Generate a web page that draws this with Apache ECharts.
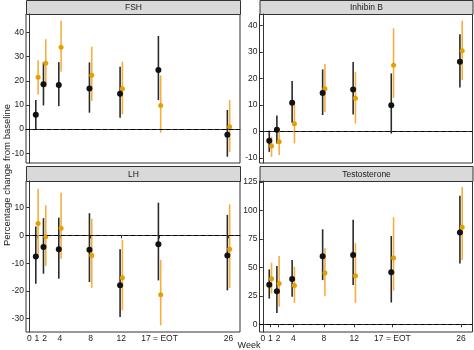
<!DOCTYPE html>
<html>
<head>
<meta charset="utf-8">
<script src="https://cdn.jsdelivr.net/npm/echarts@6/dist/echarts.min.js"></script>
<style>
    html, body {margin: 0; padding: 0; background: #fff;}
    #chart {width: 474px; height: 350px;}
</style>
</head>
<body>
<div id="chart"></div>
<script>
// 周数与刻度
var weeks = [1, 2, 4, 8, 12, 17, 26];
var xTickValues = [0, 1, 2, 4, 8, 12, 17, 26];
var xTickLabels = ['0', '1', '2', '4', '8', '12', '17 = EOT', '26'];

// FSH
var fshBlack = [5.9, 18.6, 18.2, 16.8, 14.6, 24.4, -2.3];
var fshBlackLo = [0, 9.8, 9.5, 6.8, 4.7, 12, -11.4];
var fshBlackHi = [12, 27.6, 27.7, 27.6, 25.8, 38.5, 7.9];
var fshOrange = [21.5, 27.2, 33.9, 22.3, 16.7, 9.8, 1.0];
var fshOrangeLo = [14.3, 17.5, 23.7, 11.7, 6.1, -1.5, -9.4];
var fshOrangeHi = [28.5, 37.2, 44.8, 34.1, 27.9, 22.2, 12];

// Inhibin B
var inhBlack = [-3.5, 0.6, 10.8, 14.5, 15.8, 9.9, 26.3];
var inhBlackLo = [-7.7, -4.5, 3.3, 6.2, 6.4, -0.8, 16.6];
var inhBlackHi = [0.3, 6, 19, 23.4, 26.2, 21.9, 36.7];
var inhOrange = [-5.5, -3.9, 2.9, 16.1, 12.5, 25, 30.4];
var inhOrangeLo = [-9.6, -8.9, -4.5, 7.3, 3, 12.7, 19.4];
var inhOrangeHi = [-2, 1.1, 10.3, 25.4, 22.5, 38.9, 41.8];

// LH
var lhBlack = [-7.6, -4.2, -5, -5.2, -18, -3.2, -7.2];
var lhBlackLo = [-17.4, -13.8, -15.6, -16.8, -29.4, -16.2, -19.8];
var lhBlackHi = [3.2, 6.2, 6.4, 8, -5, 11.8, 7.4];
var lhOrange = [4.3, -0.5, 2.6, -7.2, -15.3, -21.4, -5];
var lhOrangeLo = [-8, -11, -8.4, -18.9, -27, -32.4, -18.9];
var lhOrangeHi = [16.8, 10.8, 15.4, 6, -1.6, -8.8, 11.2];

// Testosterone
var tBlack = [34.7, 29.1, 39.7, 59.7, 60.9, 45.6, 80.6];
var tBlackLo = [22.6, 10, 24.1, 38.8, 34.4, 19.1, 53.5];
var tBlackHi = [48.2, 51.2, 56.5, 83.5, 91.8, 77.6, 112.9];
var tOrange = [40, 35.9, 34.1, 45, 42.6, 58.2, 85.3];
var tOrangeLo = [27, 15.3, 18.8, 24.7, 18.8, 29.4, 56.5];
var tOrangeHi = [54.1, 60, 50.6, 66.8, 71.2, 94.1, 120.6];

var panelNames = ['FSH', 'Inhibin B', 'LH', 'Testosterone'];
var yTicks = [
    [-10, 0, 10, 20, 30, 40],
    [-10, 0, 10, 20, 30, 40],
    [-30, -20, -10, 0, 10],
    [0, 25, 50, 75, 100, 125]
];
var yRanges = [[-14, 47.6], [-11.9, 44.3], [-34.8, 19.6], [-6.8, 125.9]];

var BLACK = '#111111';
var BLACK_BAR = '#2b2b2b';
var ORANGE = '#e69f00';
var ORANGE_BAR = '#f3b03f';
var DODGE = 0.15;
var FONT = '"Liberation Sans", Arial, sans-serif';

var grids = [
    {left: 26, top: 14, width: 214, height: 149},
    {left: 259.5, top: 14, width: 213, height: 149},
    {left: 26, top: 181, width: 214, height: 151},
    {left: 259.5, top: 181, width: 213, height: 151}
];
var stripTops = [0, 0, 166, 166];

var panels = [
    [fshBlack, fshBlackLo, fshBlackHi, fshOrange, fshOrangeLo, fshOrangeHi],
    [inhBlack, inhBlackLo, inhBlackHi, inhOrange, inhOrangeLo, inhOrangeHi],
    [lhBlack, lhBlackLo, lhBlackHi, lhOrange, lhOrangeLo, lhOrangeHi],
    [tBlack, tBlackLo, tBlackHi, tOrange, tOrangeLo, tOrangeHi]
];

function barSeries(idx, lo, hi, offset, color) {
    var data = [];
    for (var i = 0; i < weeks.length; i++) {
        data.push([weeks[i] + offset, lo[i], hi[i]]);
    }
    return {
        type: 'custom',
        xAxisIndex: idx,
        yAxisIndex: idx,
        silent: true,
        z: 2,
        encode: {x: 0, y: [1, 2]},
        data: data,
        renderItem: function (params, api) {
            var p1 = api.coord([api.value(0), api.value(1)]);
            var p2 = api.coord([api.value(0), api.value(2)]);
            return {
                type: 'line',
                shape: {x1: p1[0], y1: p1[1], x2: p2[0], y2: p2[1]},
                style: {stroke: color, lineWidth: 1.6}
            };
        }
    };
}

function pointSeries(idx, vals, offset, color, size, withZero) {
    var data = [];
    for (var i = 0; i < weeks.length; i++) {
        data.push([weeks[i] + offset, vals[i]]);
    }
    var s = {
        type: 'scatter',
        xAxisIndex: idx,
        yAxisIndex: idx,
        symbolSize: size,
        itemStyle: {color: color, opacity: 1},
        silent: true,
        z: 3,
        data: data
    };
    if (withZero) {
        s.markLine = {
            silent: true,
            symbol: ['none', 'none'],
            label: {show: false},
            lineStyle: {color: '#000', type: [4, 3], width: 1},
            data: [{yAxis: 0}]
        };
    }
    return s;
}

var xAxes = [], yAxes = [], series = [], graphics = [];
for (var k = 0; k < 4; k++) {
    xAxes.push({
        type: 'value',
        gridIndex: k,
        min: -0.43,
        max: 27.5,
        axisLine: {show: true, lineStyle: {color: '#333', width: 1}},
        axisTick: {show: k >= 2, length: 3, lineStyle: {color: '#333'}, customValues: xTickValues},
        axisLabel: {
            show: k >= 2,
            customValues: xTickValues,
            margin: 2,
            fontSize: 8.5,
            color: '#222',
            fontFamily: FONT,
            formatter: function (v) {
                var i = xTickValues.indexOf(v);
                return i >= 0 ? xTickLabels[i] : '';
            }
        },
        splitLine: {show: false}
    });
    yAxes.push({
        type: 'value',
        gridIndex: k,
        min: yRanges[k][0],
        max: yRanges[k][1],
        axisLine: {show: true, lineStyle: {color: '#333', width: 1}},
        axisTick: {show: true, length: 3, lineStyle: {color: '#333'}, customValues: yTicks[k]},
        axisLabel: {customValues: yTicks[k], margin: 2, fontSize: 8.5, color: '#222', fontFamily: FONT},
        splitLine: {show: false}
    });
    var p = panels[k];
    series.push(barSeries(k, p[1], p[2], -DODGE, BLACK_BAR));
    series.push(barSeries(k, p[4], p[5], DODGE, ORANGE_BAR));
    series.push(pointSeries(k, p[3], DODGE, ORANGE, 5, true));
    series.push(pointSeries(k, p[0], -DODGE, BLACK, 6, false));

    // 分面标题条
    graphics.push({
        type: 'group',
        left: grids[k].left,
        top: stripTops[k],
        children: [{
            type: 'rect',
            shape: {x: 0, y: 0, width: grids[k].width, height: grids[k].top - stripTops[k]},
            style: {fill: '#d9d9d9', stroke: '#333', lineWidth: 1}
        }, {
            type: 'text',
            x: grids[k].width / 2,
            y: (grids[k].top - stripTops[k]) / 2 + 0.5,
            style: {
                text: panelNames[k],
                fill: '#1a1a1a',
                font: '8.5px ' + FONT,
                align: 'center',
                verticalAlign: 'middle'
            }
        }]
    });
}

graphics.push({
    type: 'text',
    x: 7,
    y: 175,
    rotation: Math.PI / 2,
    style: {
        text: 'Percentage change from baseline', fill: '#1a1a1a',
        font: '9.5px ' + FONT, align: 'center', verticalAlign: 'middle'
    }
});
graphics.push({
    type: 'text',
    x: 249,
    y: 346,
    style: {text: 'Week', fill: '#1a1a1a', font: '9px ' + FONT, align: 'center', verticalAlign: 'middle'}
});

var chart = echarts.init(document.getElementById('chart'));
var gridOpts = grids.map(function (g) {
    return {left: g.left, top: g.top, width: g.width, height: g.height,
        show: true, borderColor: '#333', borderWidth: 1, backgroundColor: '#fff'};
});
chart.setOption({
    animation: false,
    backgroundColor: '#fff',
    grid: gridOpts,
    xAxis: xAxes,
    yAxis: yAxes,
    series: series,
    graphic: graphics
});
</script>
</body>
</html>
